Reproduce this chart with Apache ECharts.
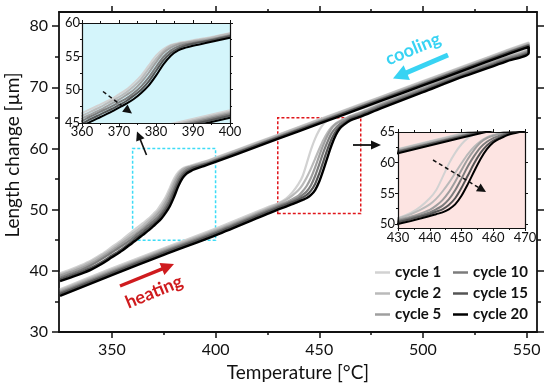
<!DOCTYPE html>
<html><head><meta charset="utf-8">
<script src="https://cdn.jsdelivr.net/npm/echarts@6/dist/echarts.min.js"></script>
<style>html,body{margin:0;padding:0;background:#fff}#c{width:550px;height:388px}</style>
</head><body><div id="c"></div>
<script>
const cycleNames = ['cycle 1','cycle 2','cycle 5','cycle 10','cycle 15','cycle 20'];
const cycleColors = ['#d2d2d2','#bababa','#9f9f9f','#7c7c7c','#555555','#000000'];

// heating branch temperatures (°C)
const heatT = [325,350,375,400,425,430,434,437,440,442,444,446,448,450,452,454,456,458,460,462,465,470,480,500,520,540,551];
const heat1  = [37.0,40.4,43.7,46.9,50.4,51.0,51.8,52.8,54.2,55.5,57.6,59.8,61.6,63.0,64.0,64.6,65.0,65.3,65.6,65.8,66.1,66.5,67.6,70.1,72.7,75.1,76.5];
const heat2  = [36.8,40.2,43.5,46.7,50.2,50.9,51.6,52.3,53.2,54.1,55.3,56.7,58.3,59.9,61.4,62.6,63.5,64.1,64.5,64.8,65.3,65.9,67.3,69.9,72.5,74.9,76.3];
const heat5  = [36.6,40.0,43.3,46.5,50.0,50.7,51.2,51.7,52.3,53.0,53.9,55.2,56.9,58.8,60.6,62.1,63.3,64.0,64.4,64.7,65.2,65.8,67.2,69.8,72.4,74.8,76.2];
const heat10 = [36.4,39.8,43.1,46.3,49.8,50.5,51.0,51.4,51.9,52.4,53.0,54.0,55.5,57.4,59.4,61.1,62.5,63.4,64.0,64.4,65.0,65.6,67.0,69.6,72.2,74.6,76.0];
const heat15 = [36.2,39.6,42.9,46.1,49.6,50.3,50.8,51.2,51.6,52.0,52.4,53.1,54.2,55.9,57.9,59.9,61.6,62.8,63.6,64.1,64.8,65.4,66.8,69.4,72.0,74.4,75.8];
const heat20 = [35.9,39.3,42.6,45.8,49.3,50.0,50.5,50.9,51.3,51.6,51.9,52.4,53.2,54.6,56.5,58.6,60.6,62.2,63.3,63.9,64.6,65.2,66.6,69.2,71.8,74.2,75.6];

// cooling branch temperatures (°C)
const coolT = [551,540,520,500,480,460,440,420,400,395,390,388,386,384,382,380,378,376,374,372,370,368,365,362,360,355,350,345,340,335,330,325];
const cool1  = [77.3,76.0,73.5,71.0,68.5,66.0,63.5,61.0,58.5,57.9,57.4,57.2,57.0,56.7,56.1,55.1,53.6,52.1,51.0,50.0,49.3,48.6,47.8,47.0,46.5,45.1,43.9,42.7,41.7,40.9,40.2,39.6];
const cool2  = [77.2,75.9,73.4,70.9,68.4,65.9,63.4,60.9,58.4,57.8,57.3,57.1,56.9,56.6,55.8,54.6,53.1,51.6,50.5,49.6,48.9,48.3,47.4,46.6,46.1,44.8,43.6,42.5,41.5,40.7,40.0,39.4];
const cool5  = [77.0,75.7,73.2,70.7,68.2,65.7,63.2,60.7,58.2,57.6,57.2,57.0,56.8,56.3,55.5,54.1,52.5,51.1,50.0,49.2,48.5,47.9,47.0,46.2,45.7,44.5,43.3,42.2,41.2,40.4,39.8,39.2];
const cool10 = [76.9,75.6,73.1,70.6,68.1,65.6,63.1,60.6,58.1,57.5,57.0,56.8,56.5,55.9,54.9,53.4,51.8,50.5,49.5,48.7,48.1,47.5,46.7,45.9,45.3,44.1,43.0,41.9,40.9,40.1,39.5,38.9];
const cool15 = [76.8,75.5,73.0,70.5,68.0,65.5,63.0,60.5,58.0,57.4,56.9,56.6,56.2,55.5,54.4,52.8,51.2,50.0,49.1,48.3,47.7,47.1,46.3,45.5,44.9,43.6,42.5,41.4,40.5,39.8,39.2,38.6];
const cool20 = [76.6,75.3,72.8,70.3,67.8,65.3,62.8,60.3,57.8,57.2,56.6,56.3,55.9,55.1,53.8,52.1,50.6,49.5,48.6,47.9,47.3,46.7,45.9,45.1,44.6,43.3,42.2,41.1,40.2,39.5,38.9,38.3];

// tick labels
const xTicksMain = [350,400,450,500,550];
const xMinorMain = [375,425,475,525];
const yTicksMain = [30,40,50,60,70,80];
const yMinorMain = [35,45,55,65,75];
const yTicksPink = [50,55,60,65];
const yMinorPink = [52.5,57.5,62.5];

// zoom boxes [xmin, ymin, xmax, ymax]
const cyanBox = [360,45,400,60];
const redBox = [430,49.35,470,65];

const heats = [heat1,heat2,heat5,heat10,heat15,heat20];
const cools = [cool1,cool2,cool5,cool10,cool15,cool20];

const FONT = 'Lato, "Open Sans", sans-serif';
const INK = '#111';

function loop(h,c){
  return heatT.map((t,i)=>[t,h[i]]).concat(coolT.map((t,i)=>[t,c[i]]));
}

const axisLineS = {show:true, onZero:false, lineStyle:{color:INK, width:1.8}};
function mainX(pos, vals, len, labels, line){
  return {type:'value', gridIndex:0, position:pos, min:324.5, max:555,
    axisLine: line ? axisLineS : {show:false},
    axisTick:{show:true, customValues:vals, length:len, lineStyle:{color:INK,width:1.5}},
    axisLabel: labels ? {show:true, customValues:vals, margin:10, fontFamily:FONT, fontSize:16, color:INK} : {show:false},
    splitLine:{show:false}};
}
function mainY(pos, vals, len, labels, line){
  return {type:'value', gridIndex:0, position:pos, min:30, max:82.3,
    axisLine: line ? axisLineS : {show:false},
    axisTick:{show:true, customValues:vals, length:len, lineStyle:{color:INK,width:1.5}},
    axisLabel: labels ? {show:true, customValues:vals, margin:11, fontFamily:FONT, fontSize:16, color:INK} : {show:false},
    splitLine:{show:false}};
}
const inAxisLine = {show:true, onZero:false, lineStyle:{color:INK, width:1.2}};
function insetLbl(m){ return {show:true, margin:m, fontFamily:FONT, fontSize:13, color:INK}; }

const xAxes = [
  Object.assign(mainX('bottom', xTicksMain, 6, true, true), {name:'Temperature [°C]', nameLocation:'middle', nameGap:23, nameTextStyle:{fontFamily:FONT, fontSize:19, color:INK}}),
  mainX('bottom', xMinorMain, 3, false, false),
  mainX('top', xTicksMain, 6, false, true),
  mainX('top', xMinorMain, 3, false, false),
  // cyan inset
  {type:'value', gridIndex:1, position:'bottom', min:360, max:400, interval:10, z:6,
   axisLine:inAxisLine, axisTick:{length:3, lineStyle:{color:INK}}, minorTick:{show:true, splitNumber:2, length:2, lineStyle:{color:INK}},
   axisLabel:insetLbl(2), splitLine:{show:false}},
  {type:'value', gridIndex:1, position:'top', min:360, max:400, interval:10, z:6,
   axisLine:inAxisLine, axisTick:{length:3, lineStyle:{color:INK}}, minorTick:{show:true, splitNumber:2, length:2, lineStyle:{color:INK}},
   axisLabel:{show:false}, splitLine:{show:false}},
  // pink inset
  {type:'value', gridIndex:2, position:'bottom', min:430, max:470, interval:10, z:6,
   axisLine:inAxisLine, axisTick:{length:3, lineStyle:{color:INK}}, minorTick:{show:true, splitNumber:2, length:2, lineStyle:{color:INK}},
   axisLabel:insetLbl(3), splitLine:{show:false}},
  {type:'value', gridIndex:2, position:'top', min:430, max:470, interval:10, z:6,
   axisLine:inAxisLine, axisTick:{length:3, lineStyle:{color:INK}}, minorTick:{show:true, splitNumber:2, length:2, lineStyle:{color:INK}},
   axisLabel:{show:false}, splitLine:{show:false}}
];
const yAxes = [
  mainY('left', yTicksMain, 7, true, true),
  mainY('left', yMinorMain, 4, false, false),
  mainY('right', yTicksMain, 7, false, true),
  mainY('right', yMinorMain, 4, false, false),
  // cyan inset
  {type:'value', gridIndex:1, position:'left', min:45, max:60, interval:5, z:6,
   axisLine:inAxisLine, axisTick:{length:3, lineStyle:{color:INK}}, minorTick:{show:true, splitNumber:2, length:2, lineStyle:{color:INK}},
   axisLabel:insetLbl(2), splitLine:{show:false}},
  {type:'value', gridIndex:1, position:'right', min:45, max:60, interval:5, z:6,
   axisLine:inAxisLine, axisTick:{length:3, lineStyle:{color:INK}}, minorTick:{show:true, splitNumber:2, length:2, lineStyle:{color:INK}},
   axisLabel:{show:false}, splitLine:{show:false}},
  // pink inset
  {type:'value', gridIndex:2, position:'left', min:redBox[1], max:redBox[3], z:6,
   axisLine:inAxisLine, axisTick:{customValues:yTicksPink, length:3, lineStyle:{color:INK}},
   axisLabel:Object.assign(insetLbl(3), {customValues:yTicksPink}), splitLine:{show:false}},
  {type:'value', gridIndex:2, position:'right', min:redBox[1], max:redBox[3], z:6,
   axisLine:inAxisLine, axisTick:{customValues:yTicksPink, length:3, lineStyle:{color:INK}},
   axisLabel:{show:false}, splitLine:{show:false}},
  {type:'value', gridIndex:2, position:'left', min:redBox[1], max:redBox[3], z:6,
   axisLine:{show:false}, axisTick:{customValues:yMinorPink, length:2, lineStyle:{color:INK}},
   axisLabel:{show:false}, splitLine:{show:false}}
];

const series = [];
cycleNames.forEach((nm,i)=>{
  const d = loop(heats[i], cools[i]);
  const w = i===5 ? 2.4 : 2.2;
  series.push({name:nm, type:'line', xAxisIndex:0, yAxisIndex:0, data:d, smooth:0.3, showSymbol:false, symbol:'none',
    lineStyle:{color:cycleColors[i], width:w}, itemStyle:{color:cycleColors[i]}, z:2+i*0.01, clip:true});
  series.push({name:nm, type:'line', xAxisIndex:4, yAxisIndex:4, data:d, smooth:0.3, showSymbol:false, symbol:'none',
    lineStyle:{color:cycleColors[i], width:2}, itemStyle:{color:cycleColors[i]}, z:5, clip:true});
  series.push({name:nm, type:'line', xAxisIndex:6, yAxisIndex:6, data:d, smooth:0.3, showSymbol:false, symbol:'none',
    lineStyle:{color:cycleColors[i], width:2}, itemStyle:{color:cycleColors[i]}, z:5, clip:true});
});
series.push({name:'boxes', type:'line', xAxisIndex:0, yAxisIndex:0, data:[], z:3,
  markArea:{silent:true, data:[
    [{coord:[cyanBox[0],cyanBox[1]], itemStyle:{color:'rgba(0,0,0,0)', borderColor:'#3ddcf6', borderWidth:1.5, borderType:[3,2]}},{coord:[cyanBox[2],cyanBox[3]]}],
    [{coord:[redBox[0],redBox[1]], itemStyle:{color:'rgba(0,0,0,0)', borderColor:'#e0161b', borderWidth:1.5, borderType:[3,2]}},{coord:[redBox[2],redBox[3]]}]
  ]}});

function arrow(x1,y1,x2,y2,color,w,hl,hw,dash){
  const dx=x2-x1, dy=y2-y1, L=Math.hypot(dx,dy), ux=dx/L, uy=dy/L;
  const bx=x2-ux*hl, by=y2-uy*hl;
  return [
    {type:'line', z:100, shape:{x1:x1,y1:y1,x2:bx+ux,y2:by+uy}, style:{stroke:color, lineWidth:w, lineDash:dash||null}},
    {type:'polygon', z:100, shape:{points:[[x2,y2],[bx-uy*hw,by+ux*hw],[bx+uy*hw,by-ux*hw]]}, style:{fill:color}}
  ];
}
const CYAN = '#38d3f3', RED = '#cf1b1e';
const gfx = [].concat(
  arrow(448,55,393,78.5,CYAN,5,15,8),
  arrow(120,286,174,264,RED,3.5,13,6.5),
  arrow(146.5,155,137,131.5,INK,1.6,9,4.5),
  arrow(353,145,381,145,INK,1.8,10,4.5),
  arrow(103,91.5,132,113.5,INK,1.5,9,4.5,[4,3]),
  arrow(433,160,486,192,INK,1.5,9,4.5,[4,3]),
  [
    {type:'text', z:100, x:413, y:49, rotation:0.39, style:{text:'cooling', fill:CYAN, font:'bold 18px '+FONT, align:'center', verticalAlign:'middle'}},
    {type:'text', z:100, x:154, y:292, rotation:0.39, style:{text:'heating', fill:RED, font:'bold 18px '+FONT, align:'center', verticalAlign:'middle'}},
    {type:'text', z:100, x:13, y:155, rotation:Math.PI/2, style:{text:'Length change [µm]', fill:INK, font:'19px '+FONT, align:'center', verticalAlign:'middle'}}
  ]
);

const legendBase = {orient:'vertical', icon:'rect', itemWidth:15, itemHeight:2.5, itemGap:6, padding:0, selectedMode:false,
  textStyle:{fontFamily:FONT, fontWeight:'bold', fontSize:15, color:INK}};

const option = {
  animation:false,
  backgroundColor:'#fff',
  grid:[
    {left:59, top:12, width:478, height:320, show:false},
    {left:82, top:23, width:148, height:100, show:true, backgroundColor:'#d4f5fb', borderWidth:0, z:4},
    {left:398, top:132, width:127, height:96, show:true, backgroundColor:'#fde4e2', borderWidth:0, z:4}
  ],
  xAxis:xAxes,
  yAxis:yAxes,
  legend:[
    Object.assign({}, legendBase, {left:375, top:265, data:['cycle 1','cycle 2','cycle 5']}),
    Object.assign({}, legendBase, {left:453, top:265, data:['cycle 10','cycle 15','cycle 20']})
  ],
  series:series,
  graphic:{elements:gfx}
};
const chart = echarts.init(document.getElementById('c'), null, {renderer:'canvas'});
chart.setOption(option);
</script></body></html>
